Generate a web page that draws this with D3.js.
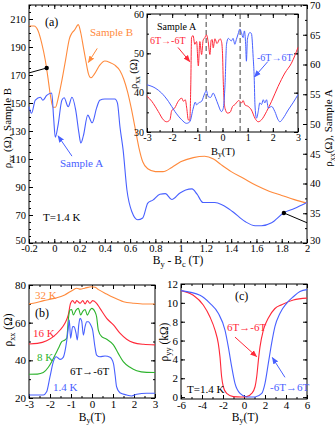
<!DOCTYPE html>
<html><head><meta charset="utf-8">
<script src="https://cdn.jsdelivr.net/npm/d3@7"></script>
<style>body{margin:0;background:#fff}svg{display:block}</style>
</head><body><svg id="c" width="335" height="426"></svg>
<script>
// ---------------- DATA ----------------
// Panel (a): main, B_y - B_c (T) vs rho_xx
const sampleB = [[-0.2,205],[-0.16,205],[-0.13,202],[-0.1,193],[-0.07,180],[-0.05,168],[-0.03,155],[-0.01,147],[0.01,147],[0.03,153],[0.06,166],[0.09,181],[0.12,196],[0.14,200],[0.16,202],[0.19,206],[0.21,200],[0.23,190],[0.25,180],[0.27,171],[0.29,168],[0.32,171],[0.36,177],[0.4,180],[0.44,179],[0.48,177],[0.52,173],[0.55,167],[0.58,158],[0.61,146],[0.64,132],[0.67,118],[0.7,108],[0.74,103],[0.8,101],[0.86,101],[0.93,104],[1.0,108],[1.1,111],[1.19,112],[1.26,110],[1.32,106],[1.4,101],[1.5,96],[1.6,91],[1.7,87],[1.8,84],[1.9,81],[2.0,78.5]];
const sampleA = [[-0.2,52.9],[-0.18,51.8],[-0.15,54],[-0.11,54.5],[-0.09,54],[-0.06,54.8],[-0.02,55.2],[-0.005,51],[0.008,47.8],[0.03,49.8],[0.06,54],[0.078,54.4],[0.11,52.9],[0.14,54.5],[0.17,52.3],[0.195,48.5],[0.21,46.8],[0.23,48],[0.265,51.5],[0.3,50.2],[0.335,52.7],[0.36,54],[0.4,54.2],[0.48,54.2],[0.5,53.5],[0.52,49.5],[0.545,45.6],[0.575,38.9],[0.615,35.2],[0.66,33.9],[0.7,34.2],[0.74,36.7],[0.78,37.2],[0.836,38.2],[0.88,38.3],[0.93,37.3],[0.995,38.4],[1.04,38.9],[1.09,39.1],[1.13,38.2],[1.177,36.8],[1.27,36.8],[1.33,36.4],[1.41,35.3],[1.51,33.6],[1.59,32.9],[1.64,32.9],[1.72,33.4],[1.817,35.1],[1.9,35.8],[2.0,36.8]];
const markerB = [[-0.06,175],[-0.2,171.5]];
const markerA = [[1.817,35.05],[2.0,33.4]];
// Inset of (a): B_y (T) vs rho_xx, sample A
const insetRed = [[-3,39.1],[-2.81,37.8],[-2.55,35.2],[-2.35,33.1],[-2.22,32.6],[-2.09,33.1],[-2.02,35.4],[-1.9,36.1],[-1.76,37.8],[-1.62,38.6],[-1.55,37.8],[-1.48,38.2],[-1.42,36],[-1.36,33.1],[-1.3,33],[-1.26,42],[-1.23,54],[-1.17,54.5],[-1.1,52.3],[-1.03,53],[-0.96,46.8],[-0.9,53],[-0.83,49.7],[-0.77,53.3],[-0.7,54],[-0.64,54.7],[-0.57,53],[-0.5,49.7],[-0.45,53.3],[-0.41,53.5],[-0.37,51.4],[-0.3,53.7],[-0.22,52.5],[-0.1,53.7],[-0.04,53],[0.0,50],[0.03,42.9],[0.1,36],[0.2,34.8],[0.3,35],[0.4,36.5],[0.5,37],[0.6,37.8],[0.65,38],[0.76,37.4],[0.82,38],[0.89,36.9],[1.02,36.5],[1.15,35.6],[1.29,33.5],[1.42,32.6],[1.55,33.1],[1.75,35.2],[1.95,37.8],[2.21,41.6],[2.48,45],[2.74,47.5],[3,51.5]];
const insetBlue = [[-3,42],[-2.68,41.2],[-2.42,39.9],[-2.15,37.8],[-1.89,35.2],[-1.62,33.1],[-1.43,32.2],[-1.3,32.6],[-1.16,36.1],[-1.08,37.6],[-1.03,36.9],[-0.95,37.4],[-0.83,37.8],[-0.7,39.9],[-0.64,40.5],[-0.57,39],[-0.47,38.8],[-0.37,39.9],[-0.27,38.6],[-0.17,36.9],[-0.04,35.2],[0.03,36],[0.1,42],[0.16,52.3],[0.23,53.8],[0.3,53.4],[0.36,53.2],[0.42,53.8],[0.49,52.3],[0.55,53.5],[0.62,54.9],[0.69,56.2],[0.75,55.3],[0.82,54],[0.87,55.7],[0.92,52.3],[0.95,48],[0.99,53.6],[1.09,55.3],[1.15,55],[1.22,48.9],[1.26,43.8],[1.29,36.9],[1.35,33.5],[1.42,35.2],[1.48,37.4],[1.55,37],[1.62,38.2],[1.68,37.4],[1.75,38.2],[1.82,36.1],[1.95,36.5],[2.08,35.2],[2.21,33.1],[2.28,32.6],[2.41,33.5],[2.61,35.6],[2.8,37.4],[3,39.5]];
const insetDashes = [-0.65, 0.7];
// Panel (b): B_y (T) vs rho_xx at several temperatures
const b32K = [[-3,70],[-2.8,70.3],[-2.3,71.7],[-1.8,72.9],[-1.3,74.7],[-0.9,77.4],[-0.73,78.3],[-0.55,77.8],[-0.35,78.3],[-0.02,79.1],[0.15,78.8],[0.33,77.4],[0.7,75.2],[1.0,73.5],[1.5,71.1],[2.0,70.3],[2.5,69.9],[3,69.9]];
const b16K = [[-3,48.7],[-2.6,49],[-2.16,50.4],[-1.84,52.6],[-1.52,56.1],[-1.29,59.7],[-1.13,64.1],[-1.02,70.3],[-0.92,71.7],[-0.81,70.3],[-0.73,71.7],[-0.57,70.3],[-0.44,71.7],[-0.33,70],[-0.22,71.7],[-0.1,70.3],[0.03,71.7],[0.22,70.3],[0.38,67.6],[0.7,62.3],[1.02,58.8],[1.33,54.4],[1.65,51.2],[1.97,49.4],[2.45,48.5],[3,48.2]];
const b8K = [[-3,32.6],[-2.6,32.7],[-2.32,33.5],[-2.08,36.3],[-1.92,39.3],[-1.76,42.8],[-1.6,46.4],[-1.44,49.9],[-1.29,50.8],[-1.2,51.9],[-1.13,61.4],[-1.05,66.7],[-0.97,67],[-0.89,64.1],[-0.76,66.7],[-0.65,67.6],[-0.54,64.1],[-0.44,66],[-0.33,67],[-0.22,64],[-0.095,66.7],[-0.01,67.6],[0.14,65.8],[0.22,63.1],[0.3,56.1],[0.46,52.6],[0.7,51.2],[1.02,48.2],[1.25,43.7],[1.49,39.3],[1.81,36.3],[2.13,34.5],[2.6,33.6],[3,33.5]];
const b14K = [[-3,21.6],[-2.6,21.6],[-2.32,21.6],[-2.16,23.3],[-2.0,31.3],[-1.84,39.3],[-1.71,41.9],[-1.6,41.1],[-1.52,40.5],[-1.37,41.6],[-1.29,44.6],[-1.21,49.9],[-1.13,57],[-1.08,61.4],[-1.02,51.7],[-0.92,57.9],[-0.86,57.9],[-0.76,54.4],[-0.7,50.8],[-0.63,58.8],[-0.57,62.3],[-0.49,60.8],[-0.41,53.4],[-0.33,57.9],[-0.25,60.5],[-0.17,60.5],[-0.06,58.8],[0.03,56.1],[0.14,47.2],[0.22,42.8],[0.38,41.9],[0.62,42.3],[0.86,41.6],[1.02,38.4],[1.1,32.2],[1.17,26],[1.33,22.8],[1.65,21.6],[1.89,21.1],[2.13,22],[2.6,22.5],[3,22.5]];
// Panel (c): B_y (T) vs rho_yy (kOhm)
const cDown = [[-6,11.3],[-4.83,10.8],[-3.88,9.77],[-3.24,8.5],[-2.76,7.1],[-2.45,5.7],[-2.29,4.3],[-2.13,2.16],[-1.97,1.1],[-1.65,0.39],[-1.02,0.05],[-0.22,0.02],[0.26,0.05],[0.73,0.39],[1.05,1.1],[1.21,2.16],[1.37,3.9],[1.52,5.3],[1.84,7.1],[2.32,8.4],[2.95,9.4],[3.59,9.8],[4.7,10.3],[6,10.5]];
const cUp = [[-6,11.3],[-4.19,10.8],[-3.24,9.95],[-2.45,8.9],[-1.81,7.1],[-1.49,5.3],[-1.17,3.2],[-0.86,1.45],[-0.38,0.39],[0.26,0.02],[1.05,0.02],[1.69,0.39],[2.0,1.45],[2.32,3.6],[2.63,5.7],[2.95,7.5],[3.43,8.9],[4.06,9.95],[4.7,10.65],[5.33,11.2],[6,11.4]];
// Tick labels
const aXTicks = [-0.2,0,0.2,0.4,0.6,0.8,1,1.2,1.4,1.6,1.8,2];
const aLeftTicks = [50,70,90,110,130,150,170,190,210];
const aRightTicks = [30,35,40,45,50,55,60,65,70];
const insetXTicks = [-3,-2,-1,0,1,2,3];
const insetYTicks = [30,40,50,60];
const bXTicks = [-3,-2,-1,0,1,2,3];
const bYTicks = [20,40,60,80];
const cXTicks = [-6,-4,-2,0,2,4,6];
const cYTicks = [0,2,4,6,8,10,12];

// ---------------- DRAW ----------------
const FONT = "'Liberation Serif','Times New Roman',serif";
const ORANGE = "#ff8a3c", BLUE = "#4860ff", RED = "#ff2838", GREEN = "#2db32d";
const svg = d3.select("#c").attr("font-family", FONT);
const fmt = d => String(Math.round(d*100)/100);
const defs = svg.append("defs");
function mk(id, color){
  defs.append("marker").attr("id",id).attr("viewBox","0 0 10 10").attr("refX",9).attr("refY",5)
    .attr("markerWidth",7).attr("markerHeight",7).attr("markerUnits","userSpaceOnUse").attr("orient","auto")
    .append("path").attr("d","M0,1L10,5L0,9Z").attr("fill",color);
}
mk("mO",ORANGE); mk("mB",BLUE); mk("mR",RED);

function axis(parent, gen, scale, vals, size, labels, tx, ty, fs, pad){
  const a = gen(scale).tickValues(vals).tickSize(size).tickPadding(pad==null?3:pad).tickFormat(labels ? fmt : "");
  const g = parent.append("g").attr("transform",`translate(${tx},${ty})`).call(a);
  g.select(".domain").remove();
  g.attr("font-family",FONT).attr("font-size",fs);
  g.selectAll("text").attr("fill","#000");
  g.selectAll("line").attr("stroke","#000");
  return g;
}
function frame(x, y, o){
  const [x0,x1] = x.range(), [y0,y1] = y.range();
  svg.append("rect").attr("x",x0).attr("y",y1).attr("width",x1-x0).attr("height",y0-y1)
    .attr("fill", o.fill || "none").attr("stroke","#000").attr("stroke-width",1);
  const M = 4, m = 2;
  axis(svg, d3.axisBottom, x, o.xMaj, -M, true, 0, y0, o.fs, o.bpad);
  axis(svg, d3.axisBottom, x, o.xMin, -m, false, 0, y0, o.fs);
  axis(svg, d3.axisTop, x, o.xMaj, -M, false, 0, y1, o.fs);
  axis(svg, d3.axisTop, x, o.xMin, -m, false, 0, y1, o.fs);
  const gl = axis(svg, d3.axisLeft, y, o.yMaj, -M, true, x0, 0, o.fs);
  axis(svg, d3.axisLeft, y, o.yMin, -m, false, x0, 0, o.fs);
  const yr = o.yR || y;
  const gr = axis(svg, d3.axisRight, yr, o.yRMaj || o.yMaj, -M, !!o.yR, x1, 0, o.fs);
  axis(svg, d3.axisRight, yr, o.yRMin || o.yMin, -m, false, x1, 0, o.fs);
  if (o.lift) {
    const lo = o.yMaj[0], loR = (o.yRMaj || o.yMaj)[0];
    gl.selectAll(".tick").filter(d => d === lo).select("text").attr("y", -o.lift);
    gr.selectAll(".tick").filter(d => d === loR).select("text").attr("y", -o.lift);
  }
}
function curve(data, x, y, color, w){
  svg.append("path").datum(data).attr("fill","none").attr("stroke",color).attr("stroke-width",w||1.1)
    .attr("d", d3.line().x(d=>x(d[0])).y(d=>y(d[1])).curve(d3.curveMonotoneX));
}
function txt(x, y, s, color, fs, anchor){
  return svg.append("text").attr("x",x).attr("y",y).attr("fill",color||"#000").attr("font-size",fs||11)
    .attr("text-anchor",anchor||"start").text(s);
}
function arrow(x, y, p0, p1, color, id){
  svg.append("line").attr("x1",x(p0[0])).attr("y1",y(p0[1])).attr("x2",x(p1[0])).attr("y2",y(p1[1]))
    .attr("stroke",color).attr("stroke-width",1).attr("marker-end",`url(#${id})`);
}
function rho(parent, sub, rest, x, y, fs, anchor, rot){
  const t = svg.append("text").attr("font-size",fs).attr("text-anchor",anchor||"middle")
    .attr("transform",`translate(${x},${y})` + (rot?` rotate(${rot})`:""));
  t.append("tspan").text("ρ");
  t.append("tspan").attr("dy",2.5).attr("font-size",fs*0.72).text(sub);
  t.append("tspan").attr("dy",-2.5).text(rest);
  return t;
}
function byLabel(x, y, fs, rest){
  const t = svg.append("text").attr("x",x).attr("y",y).attr("font-size",fs).attr("text-anchor","middle");
  t.append("tspan").text("B"); t.append("tspan").attr("dy",2).attr("font-size",fs*0.72).text("y");
  t.append("tspan").attr("dy",-2).text(rest);
  return t;
}

// ===== Panel (a) =====
const xA = d3.scaleLinear([-0.2,2],[29,307]);
const yBs = d3.scaleLinear([50,220],[243,5]);
const yAs = d3.scaleLinear([30,70],[243,5]);
frame(xA, yBs, {xMaj:aXTicks, xMin:d3.range(-0.2,2.001,0.05), yMaj:aLeftTicks, yMin:d3.range(50,220.1,5),
  yR:yAs, yRMaj:aRightTicks, yRMin:d3.range(30,70.1,2.5), fs:10.5, bpad:2, lift:3});
curve(sampleB, xA, yBs, ORANGE);
curve(sampleA, xA, yAs, BLUE);
// black markers
svg.append("line").attr("x1",xA(markerB[0][0])).attr("y1",yBs(markerB[0][1])).attr("x2",xA(markerB[1][0])).attr("y2",yBs(markerB[1][1])).attr("stroke","#000");
svg.append("circle").attr("cx",xA(markerB[0][0])).attr("cy",yBs(markerB[0][1])).attr("r",2.2).attr("fill","#000");
svg.append("line").attr("x1",xA(markerA[0][0])).attr("y1",yAs(markerA[0][1])).attr("x2",xA(markerA[1][0])).attr("y2",yAs(markerA[1][1])).attr("stroke","#000");
svg.append("circle").attr("cx",xA(markerA[0][0])).attr("cy",yAs(markerA[0][1])).attr("r",2.2).attr("fill","#000");
txt(45,26,"(a)","#000",12);
txt(90,36,"Sample B",ORANGE,11);
arrow(xA, yBs, [0.34,189], [0.27,179], ORANGE, "mO");
txt(60,167,"Sample A",BLUE,11);
arrow(xA, yAs, [0.14,44.6], [0.03,48], BLUE, "mB");
txt(43,221,"T=1.4 K","#000",11);
// x label By - Bc (T)
{
  const t = svg.append("text").attr("x",178).attr("y",264).attr("font-size",11.5).attr("text-anchor","middle");
  t.append("tspan").text("B"); t.append("tspan").attr("dy",2.5).attr("font-size",8.5).text("y");
  t.append("tspan").attr("dy",-2.5).text(" - B"); t.append("tspan").attr("dy",2.5).attr("font-size",8.5).text("c");
  t.append("tspan").attr("dy",-2.5).text(" (T)");
}
rho(svg,"xx"," (Ω), Sample B",11,128,11,"middle",-90);
rho(svg,"xx","(Ω), Sample A",332,128,11,"middle",-90);

// Inset
const xI = d3.scaleLinear([-3,3],[147,298]);
const yI = d3.scaleLinear([30,60],[132,14]);
frame(xI, yI, {xMaj:insetXTicks, xMin:d3.range(-3,3.01,0.5), yMaj:insetYTicks, yMin:d3.range(30,60.1,5), fs:10, fill:"#fff", bpad:2});
insetDashes.forEach(v=>{
  svg.append("line").attr("x1",xI(v)).attr("x2",xI(v)).attr("y1",yI(60)).attr("y2",yI(30))
    .attr("stroke","#444").attr("stroke-width",1).attr("stroke-dasharray","5,3");
});
curve(insetRed, xI, yI, RED, 1);
curve(insetBlue, xI, yI, BLUE, 1);
txt(157,30,"Sample A","#000",10);
txt(150,44,"6T→-6T",RED,10);
arrow(xI, yI, [-1.77,51.5], [-1.3,47.9], RED, "mR");
txt(257,61,"-6T→6T",BLUE,10);
arrow(xI, yI, [1.8,47.9], [1.27,44], BLUE, "mB");
byLabel(223,155,10.5,"(T)");
rho(svg,"xx"," (Ω)",137,74,10.5,"middle",-90);

// ===== Panel (b) =====
const xb = d3.scaleLinear([-3,3],[29,155]);
const yb = d3.scaleLinear([20,80],[398,285]);
frame(xb, yb, {xMaj:bXTicks, xMin:d3.range(-3,3.01,0.5), yMaj:bYTicks, yMin:d3.range(20,80.1,10), fs:11, bpad:2});
curve(b32K, xb, yb, ORANGE);
curve(b16K, xb, yb, RED);
curve(b8K, xb, yb, GREEN);
curve(b14K, xb, yb, BLUE);
txt(35,299,"32 K",ORANGE,11);
txt(35,317,"(b)","#000",12);
txt(33,337,"16 K",RED,11);
txt(37,361,"8 K",GREEN,11);
txt(70,375,"6T→-6T","#000",11);
txt(53,391,"1.4 K",BLUE,11);
rho(svg,"xx"," (Ω)",12,330,11.5,"middle",-90);
byLabel(92,421,11.5,"(T)");

// ===== Panel (c) =====
const xc = d3.scaleLinear([-6,6],[181,307]);
const yc = d3.scaleLinear([-0.2,12],[399,284]);
frame(xc, yc, {xMaj:cXTicks, xMin:d3.range(-6,6.01,1), yMaj:cYTicks, yMin:cYTicks, fs:11, bpad:2});
curve(cDown, xc, yc, RED);
curve(cUp, xc, yc, BLUE);
txt(235,300,"(c)","#000",12);
txt(227,331,"6T→-6T",RED,11);
arrow(xc, yc, [-0.86,6.37], [1.2,4.3], RED, "mR");
txt(270,391,"-6T→6T",BLUE,11);
arrow(xc, yc, [3.9,2.1], [2.7,4.2], BLUE, "mB");
txt(187,393,"T=1.4 K","#000",11);
rho(svg,"yy"," (kΩ)",168,342,11.5,"middle",-90);
byLabel(245,421,11.5,"(T)");
</script></body></html>
